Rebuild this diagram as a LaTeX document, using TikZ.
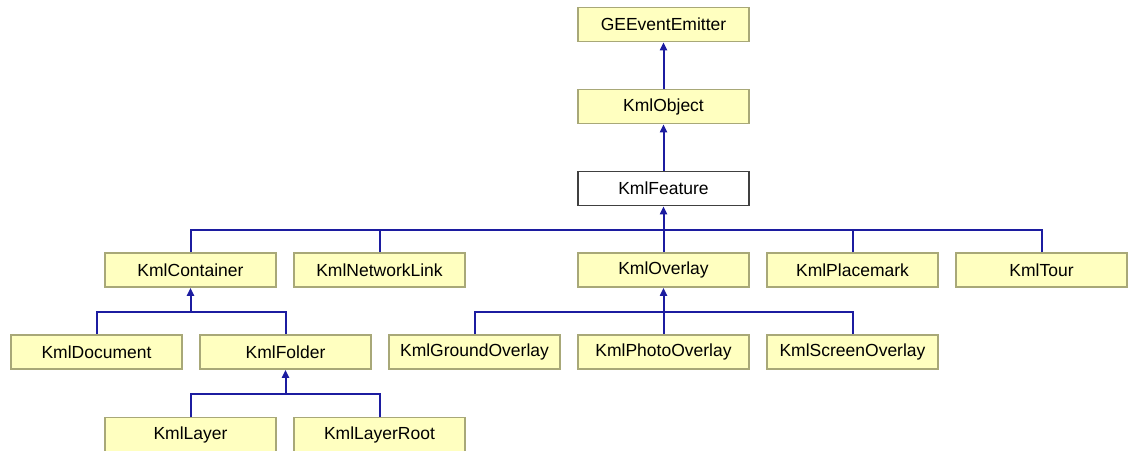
\documentclass[tikz,border=0pt]{standalone}
\usepackage{fontspec}
\setmainfont{Liberation Sans}
\usepackage{tikz}
\usetikzlibrary{arrows.meta, calc}
\definecolor{boxfill}{HTML}{FFFFC0}
\definecolor{boxline}{HTML}{A8A878}
\definecolor{linkblue}{HTML}{1C1CA0}

\tikzset{
  cls/.style={draw=boxline, fill=boxfill, line width=1.8pt, minimum width=171pt, minimum height=34pt, inner sep=0pt, font=\fontsize{17.5}{19}\selectfont},
  focus/.style={cls, draw=black!75, fill=white},
  link/.style={draw=linkblue, line width=2pt},
  inherit/.style={link, -{Triangle[width=7pt,length=8pt]}}
}

\begin{document}
\begin{tikzpicture}[x=1pt, y=-1pt]
\useasboundingbox (0,0) rectangle (1133,450);

% top chain
\node[cls] (geEventEmitter) at (663.5,24.5) {GEEventEmitter};
\node[cls] (kmlObject) at (663.5,106.5) {KmlObject};
\node[focus] (kmlFeature) at (663.5,188.5) {KmlFeature};

% children of KmlFeature
\node[cls] (kmlContainer) at (190.5,270) {KmlContainer};
\node[cls] (kmlNetworkLink) at (379.5,270) {KmlNetworkLink};
\node[cls] (kmlOverlay) at (663.5,270) {KmlOverlay};
\node[cls] (kmlPlacemark) at (852.5,270) {KmlPlacemark};
\node[cls] (kmlTour) at (1041.5,270) {KmlTour};

% children of KmlContainer and KmlOverlay
\node[cls] (kmlDocument) at (96.5,352) {KmlDocument};
\node[cls] (kmlFolder) at (285.5,352) {KmlFolder};
\node[cls] (kmlGroundOverlay) at (474.5,352) {KmlGroundOverlay};
\node[cls] (kmlPhotoOverlay) at (663.5,352) {KmlPhotoOverlay};
\node[cls] (kmlScreenOverlay) at (852.5,352) {KmlScreenOverlay};

% children of KmlFolder
\node[cls] (kmlLayer) at (190.5,434.5) {KmlLayer};
\node[cls] (kmlLayerRoot) at (379.5,434.5) {KmlLayerRoot};

\coordinate (featureBus) at ($(kmlFeature.south)+(0,24)$);
\coordinate (containerBus) at ($(kmlContainer.south)+(0,24)$);
\coordinate (overlayBus) at ($(kmlOverlay.south)+(0,24)$);
\coordinate (folderBus) at ($(kmlFolder.south)+(0,24)$);

\draw[inherit] (kmlObject) -- (geEventEmitter);
\draw[inherit] (kmlFeature) -- (kmlObject);

\foreach \child in {kmlContainer, kmlNetworkLink, kmlOverlay, kmlPlacemark, kmlTour}
  \draw[link] (\child.north) |- (featureBus);
\draw[inherit] (featureBus) -- (kmlFeature.south);

\foreach \child in {kmlDocument, kmlFolder}
  \draw[link] (\child.north) |- (containerBus);
\draw[inherit] (containerBus) -- (kmlContainer.south);

\foreach \child in {kmlGroundOverlay, kmlPhotoOverlay, kmlScreenOverlay}
  \draw[link] (\child.north) |- (overlayBus);
\draw[inherit] (overlayBus) -- (kmlOverlay.south);

\foreach \child in {kmlLayer, kmlLayerRoot}
  \draw[link] (\child.north) |- (folderBus);
\draw[inherit] (folderBus) -- (kmlFolder.south);
\end{tikzpicture}
\end{document}
